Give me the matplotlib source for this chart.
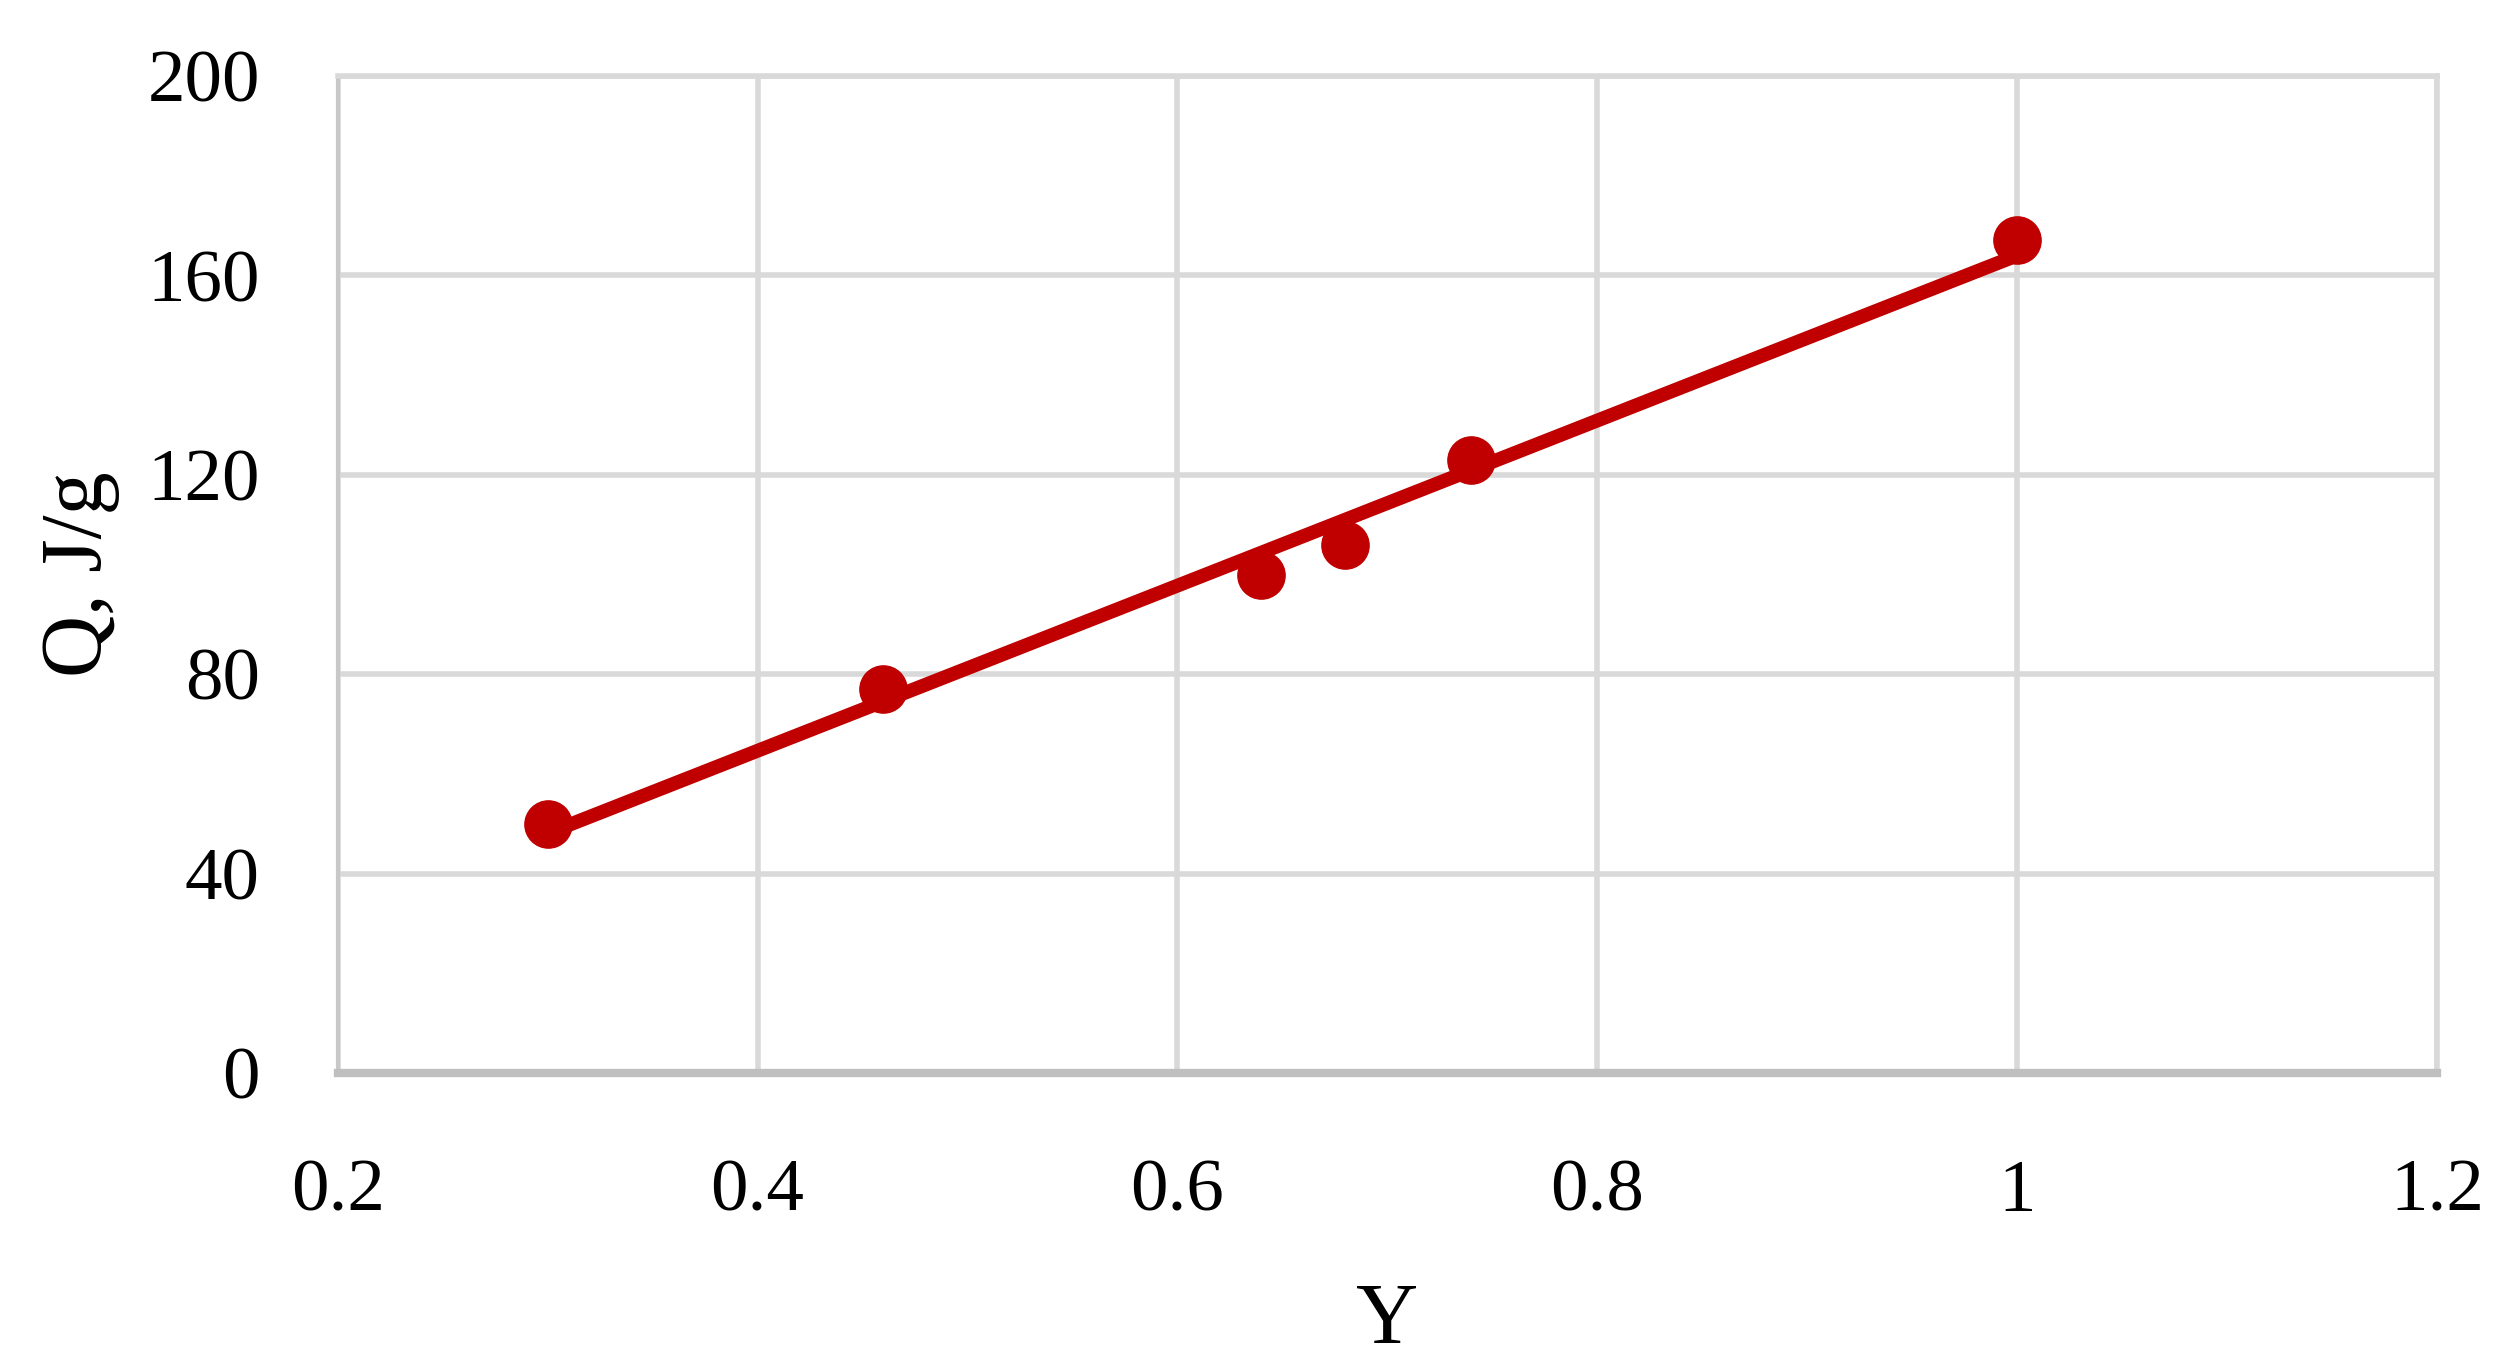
import numpy as np
import matplotlib
matplotlib.use("Agg")
import matplotlib.pyplot as plt

# Data
Y_vals = [0.30, 0.46, 0.64, 0.68, 0.74, 1.00]
Q_vals = [50, 77, 100, 106, 123, 167]
x_ticks = [0.2, 0.4, 0.6, 0.8, 1.0, 1.2]
x_tick_labels = ["0.2", "0.4", "0.6", "0.8", "1", "1.2"]
y_ticks = [0, 40, 80, 120, 160, 200]
y_tick_labels = ["0", "40", "80", "120", "160", "200"]

plt.rcParams['font.family'] = ['Liberation Serif', 'DejaVu Serif']

fig = plt.figure(figsize=(25.01, 13.71), dpi=100)
ax = fig.add_axes([0.135, 0.2173, 0.9744 - 0.135, 0.9446 - 0.2173])

red = '#C00000'
# linear trendline (least-squares on the data)
slope, intercept = np.polyfit(Y_vals, Q_vals, 1)
xs = np.array([min(Y_vals), max(Y_vals)])
ax.plot(xs, slope * xs + intercept, color=red, lw=10, solid_capstyle='butt', zorder=3)
ax.plot(Y_vals, Q_vals, 'o', color=red, markersize=34, zorder=4)

ax.set_xlim(0.2, 1.2)
ax.set_ylim(0, 200)
ax.set_xticks(x_ticks)
ax.set_xticklabels(x_tick_labels)
ax.set_yticks(y_ticks)
ax.set_yticklabels(y_tick_labels)
ax.tick_params(axis='both', length=0, labelsize=54, colors='black')
ax.tick_params(axis='x', pad=62)
ax.tick_params(axis='y', pad=56)

ax.grid(True, color='#D9D9D9', lw=4)
ax.set_axisbelow(True)
for s in ['top', 'right']:
    ax.spines[s].set_color('#D9D9D9')
    ax.spines[s].set_linewidth(4)
ax.spines['left'].set_color('#C8C8C8')
ax.spines['left'].set_linewidth(3)
ax.spines['bottom'].set_color('#BFBFBF')
ax.spines['bottom'].set_linewidth(6)

ax.set_xlabel('Y', fontsize=62, labelpad=40)
ax.set_ylabel('Q, J/g', fontsize=62, labelpad=20)

fig.savefig('out.png', dpi=100, facecolor='white')
